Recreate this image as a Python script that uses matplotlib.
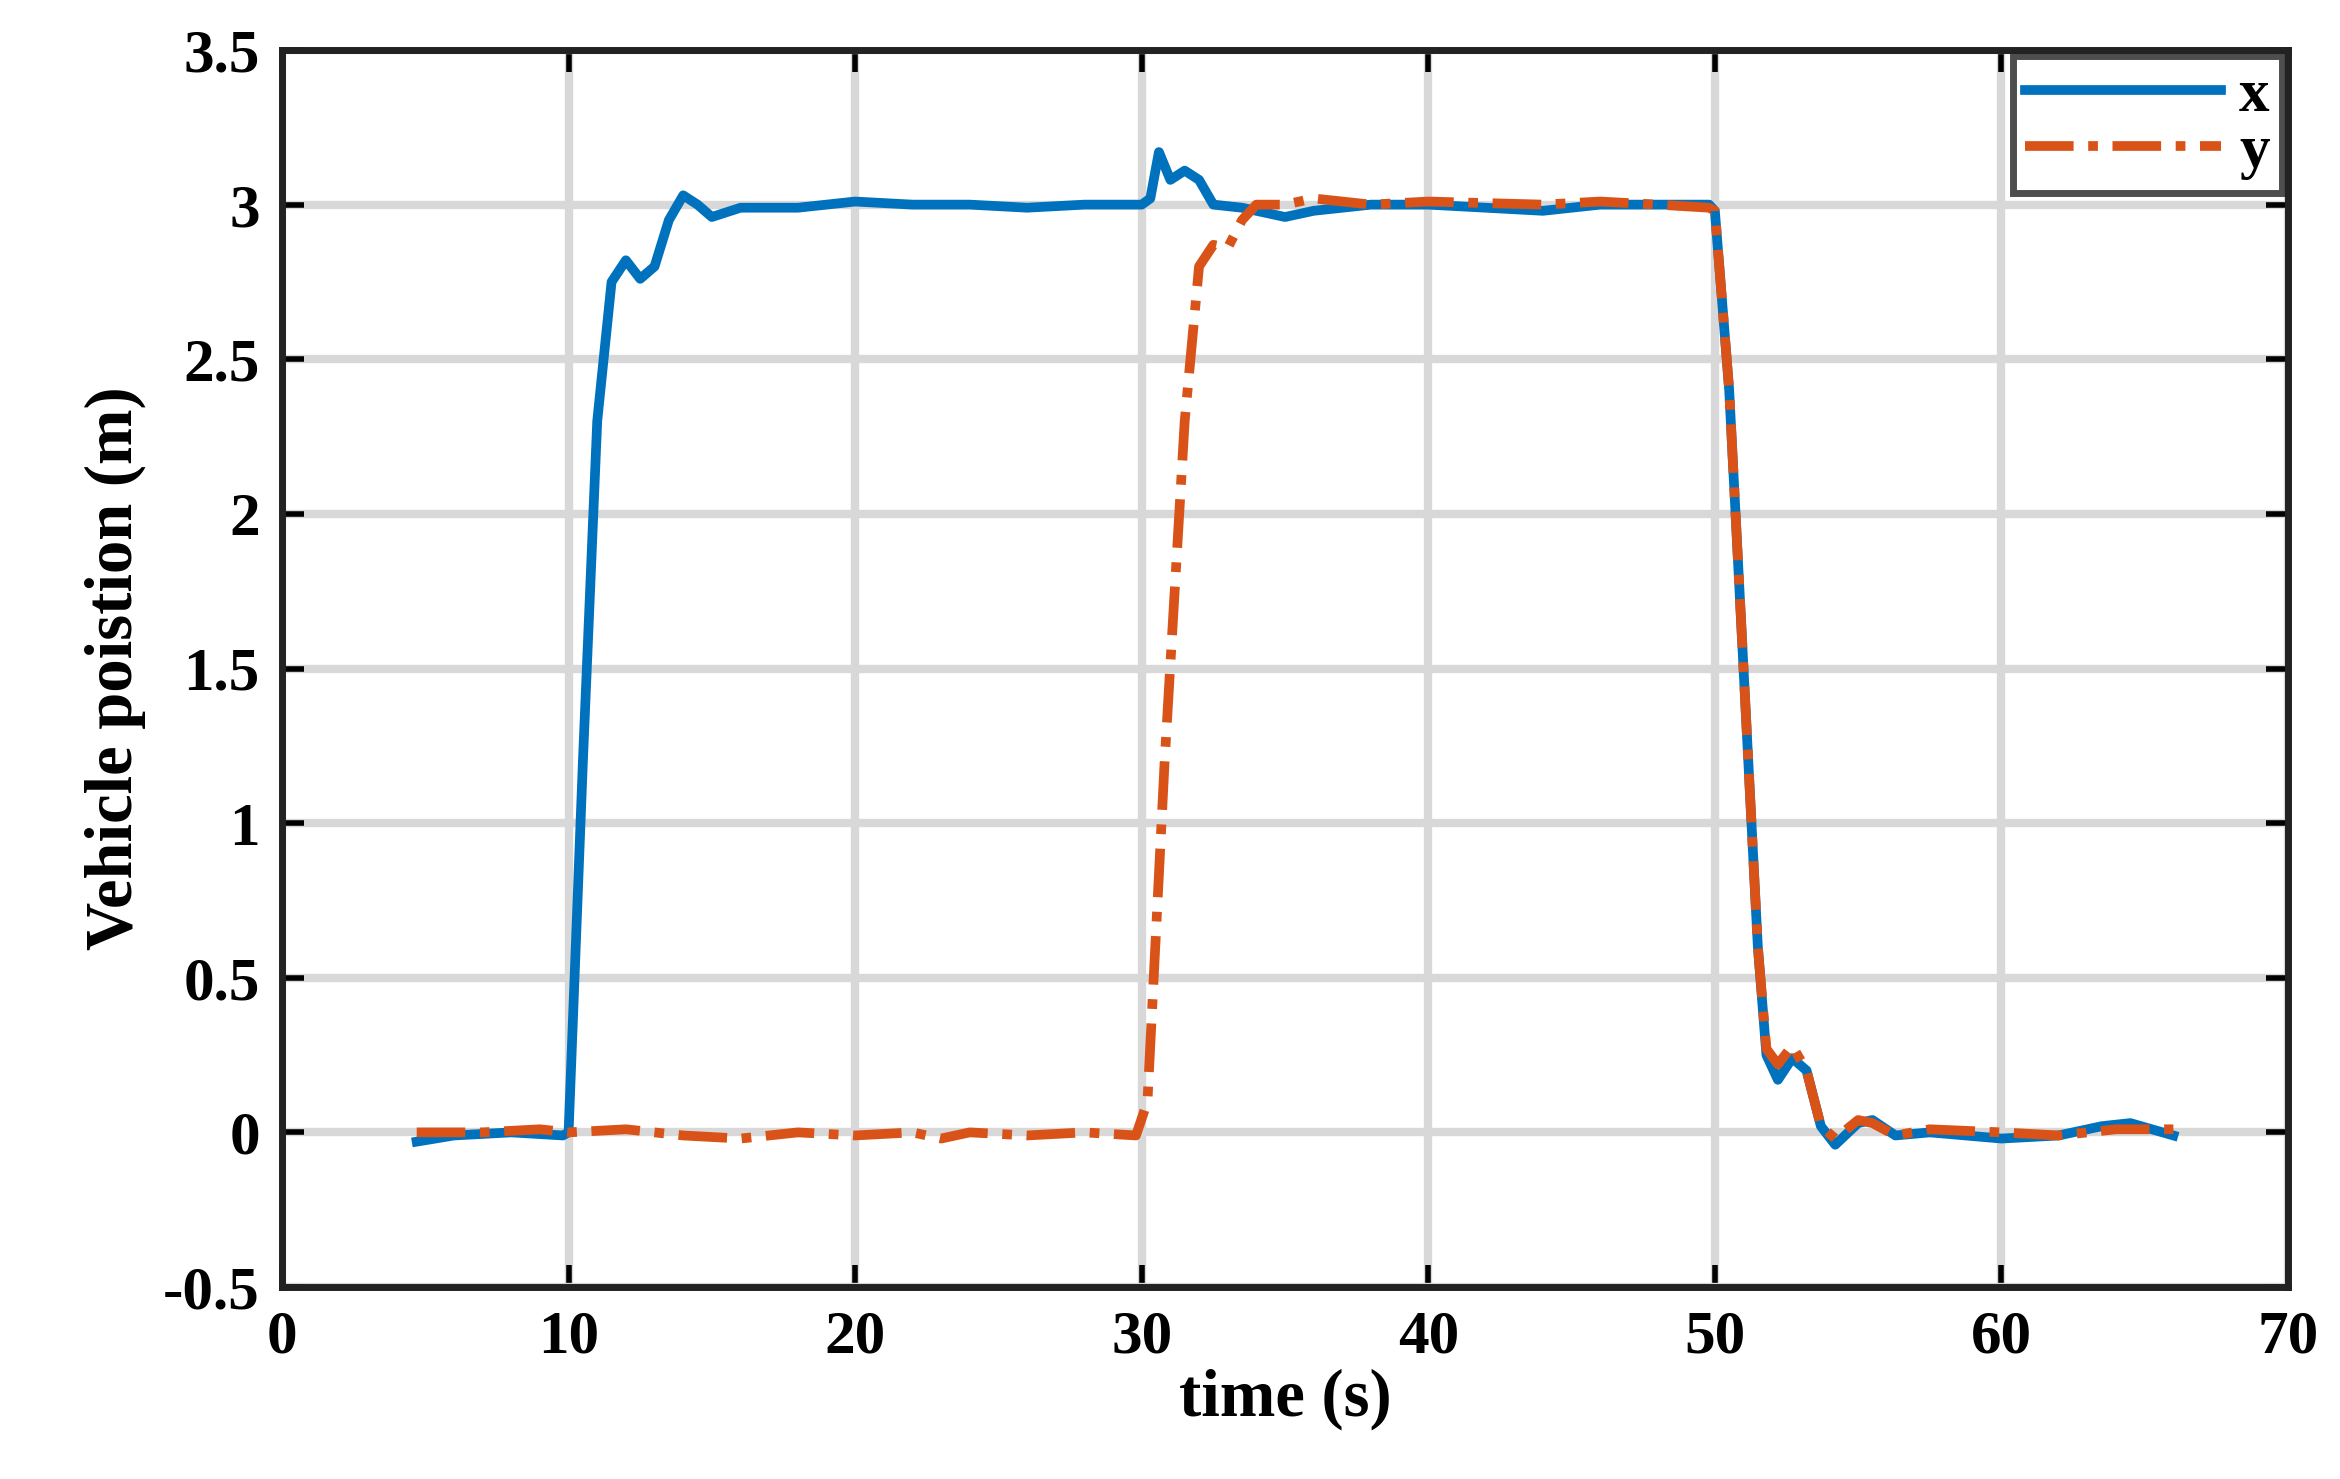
import matplotlib.pyplot as plt

# time (s) / position (m)
x_t = [4.7, 6, 8, 9.8, 10, 10.5, 11, 11.5, 12, 12.5, 13, 13.5, 14, 14.5, 15, 16, 18, 20, 22, 24,
       26, 28, 30, 30.3, 30.6, 31, 31.5, 32, 32.5, 33.5, 35, 36, 38, 40, 42, 44, 46, 48, 49.8,
       50, 50.5, 51, 51.5, 51.8, 52.2, 52.7, 53.2, 53.7, 54.2, 55, 55.5, 56.3, 57.5, 60, 62,
       63.5, 64.5, 66]
x_val = [-0.03, -0.01, 0.0, -0.01, 0.0, 1.2, 2.3, 2.75, 2.82, 2.76, 2.8, 2.95, 3.03, 3.0, 2.96,
         2.99, 2.99, 3.01, 3.0, 3.0, 2.99, 3.0, 3.0, 3.02, 3.17, 3.08, 3.11, 3.08, 3.0, 2.99,
         2.96, 2.98, 3.0, 3.0, 2.99, 2.98, 3.0, 3.0, 3.0, 2.98, 2.4, 1.5, 0.6, 0.25, 0.17, 0.24,
         0.2, 0.02, -0.04, 0.03, 0.04, -0.01, 0.0, -0.02, -0.01, 0.02, 0.03, -0.01]

y_t = [4.7, 7, 9, 10, 12, 14, 16, 18, 20, 22, 23, 24, 26, 28, 29.8, 30.2, 30.8, 31.5, 32, 32.5,
       33, 33.5, 34, 35, 36, 38, 40, 44, 46, 48, 49.8, 50, 50.5, 51, 51.5, 51.8, 52.2, 52.7,
       53.2, 53.7, 54.2, 55, 55.5, 56.3, 57.5, 60, 62, 64, 66]
y_val = [0.0, 0.0, 0.01, 0.0, 0.01, -0.01, -0.02, 0.0, -0.01, 0.0, -0.02, 0.0, -0.01, 0.0, -0.01,
         0.1, 1.2, 2.3, 2.8, 2.87, 2.86, 2.95, 3.0, 3.0, 3.02, 3.0, 3.01, 3.0, 3.01, 3.0, 2.99,
         2.98, 2.4, 1.5, 0.6, 0.27, 0.22, 0.28, 0.2, 0.02, -0.02, 0.04, 0.03, -0.01, 0.01, 0.0,
         -0.01, 0.01, 0.01]

plt.rcParams.update({"font.family": "Liberation Serif", "font.weight": "bold"})

fig = plt.figure(figsize=(23.4, 14.79), dpi=100)
ax = fig.add_axes([282 / 2340, 1 - 1287 / 1479, (2288 - 282) / 2340, (1287 - 50) / 1479])

ax.plot(x_t, x_val, color="#0072BD", linewidth=7, label="x")
ax.plot(y_t, y_val, color="#D95319", linewidth=7, linestyle=(0, (5, 1.5, 1, 1.5)), label="y")

ax.set_xlim(0, 70)
ax.set_ylim(-0.5, 3.5)
ax.set_xticks(range(0, 71, 10))
ax.set_yticks([-0.5, 0, 0.5, 1, 1.5, 2, 2.5, 3, 3.5])
ax.set_yticklabels(["-0.5", "0", "0.5", "1", "1.5", "2", "2.5", "3", "3.5"])
ax.grid(True, color="#d8d8d8", linewidth=6)
ax.tick_params(direction="in", length=16, width=4, labelsize=44, top=True, right=True, pad=16)
for spine in ax.spines.values():
    spine.set_linewidth(5)
    spine.set_color("#222222")

ax.set_xlabel("time (s)", fontsize=48, fontweight="bold", labelpad=2)
ax.set_ylabel("Vehicle poistion (m)", fontsize=48, fontweight="bold", labelpad=12)

leg = ax.legend(loc="upper right", fontsize=44, handlelength=3.2, markerfirst=True,
                borderaxespad=0.1, fancybox=False, handletextpad=0.3, labelspacing=0.0,
                borderpad=0.2)
leg.get_frame().set_edgecolor("#222222")
leg.get_frame().set_linewidth(5)

fig.savefig("out.png", dpi=100)
